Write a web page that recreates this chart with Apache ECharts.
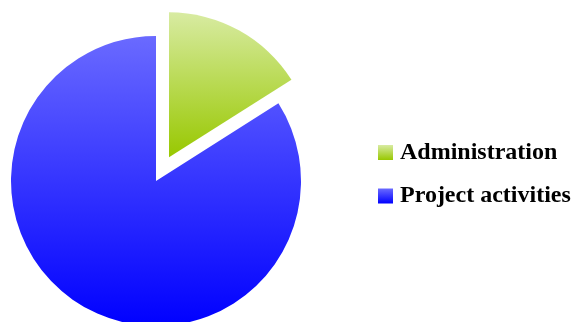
<!DOCTYPE html>
<html><head><meta charset="utf-8">
<script src="https://cdn.jsdelivr.net/npm/echarts@6/dist/echarts.min.js"></script>
<style>html,body{margin:0;padding:0;background:#fff}#c{width:574px;height:322px}</style>
</head><body><div id="c"></div>
<script>
const categories = ['Administration', 'Project activities'];
const values = [16, 84];
const topColors = ['#d8eba2', '#6a6aff'];
const bottomColors = ['#98c800', '#0000ff'];

const chart = echarts.init(document.getElementById('c'), null, {renderer: 'canvas'});
const grad = (i) => new echarts.graphic.LinearGradient(0, 0, 0, 1, [
  {offset: 0, color: topColors[i]}, {offset: 1, color: bottomColors[i]}
]);
chart.setOption({
  animation: false,
  legend: {
    orient: 'vertical', left: 378, top: 140.5, padding: 0,
    icon: 'rect',
    itemWidth: 15, itemHeight: 15, itemGap: 19.5,
    data: categories,
    textStyle: {fontFamily: 'Liberation Serif', fontWeight: 'bold', fontSize: 24, color: '#000', lineHeight: 20, padding: [0,0,0,2]},
    selectedMode: false
  },
  series: [{
    type: 'pie',
    center: [156, 181], radius: 145,
    startAngle: 90, clockwise: true,
    selectedMode: 'single', selectedOffset: 27,
    label: {show: false}, labelLine: {show: false},
    emphasis: {disabled: true},
    data: categories.map((n, i) => ({name: n, value: values[i], selected: i === 0, itemStyle: {color: grad(i)}}))
  }]
});
</script></body></html>
